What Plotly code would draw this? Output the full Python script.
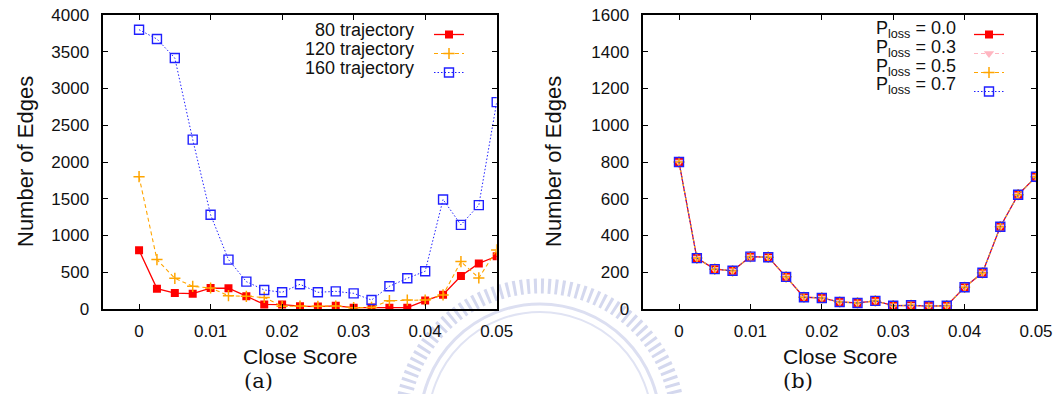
import plotly.graph_objects as go

# Close-score bins (shared by both panels)
close_score = [0.0, 0.0025, 0.005, 0.0075, 0.01, 0.0125, 0.015, 0.0175, 0.02, 0.0225,
               0.025, 0.0275, 0.03, 0.0325, 0.035, 0.0375, 0.04, 0.0425, 0.045, 0.0475, 0.05]

# Panel (a): number of edges per close score for each trajectory count
edges_80 = [800, 277, 217, 208, 285, 282, 175, 62, 60, 39, 33, 43, 18, 19, 16, 18, 115, 195, 448, 620, 718]
edges_120 = [1800, 672, 418, 308, 286, 181, 172, 158, 36, 40, 36, 40, 18, 22, 113, 122, 122, 191, 645, 423, 804]
edges_160 = [3800, 3673, 3414, 2305, 1282, 672, 372, 259, 227, 336, 227, 240, 213, 122, 309, 418, 513, 1490, 1145, 1413, 2814]
labels_a = ["80 trajectory", "120 trajectory", "160 trajectory"]

# Panel (b): number of edges under different packet-loss probabilities
edges_p00 = [800, 277, 217, 208, 285, 282, 175, 64, 60, 38, 33, 44, 18, 20, 16, 18, 118, 197, 448, 622, 720]
edges_p03 = [800, 277, 217, 208, 285, 282, 175, 64, 60, 38, 33, 44, 18, 20, 16, 18, 118, 197, 448, 622, 720]
edges_p05 = [800, 277, 217, 208, 285, 282, 175, 64, 60, 38, 33, 44, 18, 20, 16, 18, 118, 197, 448, 622, 720]
edges_p07 = [800, 277, 217, 208, 285, 282, 175, 64, 60, 38, 33, 44, 18, 20, 16, 18, 118, 197, 448, 622, 720]
labels_b = ["P<sub>loss</sub> = 0.0", "P<sub>loss</sub> = 0.3", "P<sub>loss</sub> = 0.5", "P<sub>loss</sub> = 0.7"]

W, H = 1062, 394
SANS = "Liberation Sans, Arial, sans-serif"
SERIF = "DejaVu Serif, Liberation Serif, serif"


def px_x(v):
    return v / W


def px_y(v):
    return 1 - v / H


RED = "#ff0000"
ORANGE = "#ffa500"
BLUE = "#2020ff"
PINK = "#ffb6c1"

style_red = dict(line=dict(color=RED, width=1.3, dash="solid"),
                 marker=dict(symbol="square", size=8, color=RED))
style_orange = dict(line=dict(color=ORANGE, width=1.1, dash="4px,3px"),
                    marker=dict(symbol="cross-thin", size=8, color=ORANGE,
                                line=dict(color=ORANGE, width=1.5)))
style_blue = dict(line=dict(color=BLUE, width=1.0, dash="1.5px,2px"),
                  marker=dict(symbol="square-open", size=9, color=BLUE,
                              line=dict(color=BLUE, width=1.4)))
style_pink = dict(line=dict(color=PINK, width=1.1, dash="4px,3px"),
                  marker=dict(symbol="triangle-down", size=9, color=PINK))

fig = go.Figure()

for ys, st in zip([edges_80, edges_120, edges_160], [style_red, style_orange, style_blue]):
    fig.add_trace(go.Scatter(x=close_score, y=ys, mode="lines+markers", name=" ",
                             xaxis="x", yaxis="y", legend="legend", **st))

for ys, st in zip([edges_p00, edges_p03, edges_p05, edges_p07],
                  [style_red, style_pink, style_orange, style_blue]):
    fig.add_trace(go.Scatter(x=close_score, y=ys, mode="lines+markers", name=" ",
                             xaxis="x2", yaxis="y2", legend="legend2", **st))

# plot frames in pixels
A_L, A_R = 103.3, 496.7
B_L, B_R = 643.3, 1036.0
TOP, BOT = 15.0, 309.0

axis_common = dict(showline=True, linecolor="black", linewidth=1.5, mirror="ticks",
                   ticks="inside", ticklen=5, tickwidth=1, tickcolor="black",
                   showgrid=False, zeroline=False, automargin=False,
                   tickfont=dict(family=SANS, size=17, color="#111"))

# faint circular seal behind both panels
cx_w, cy_w = 540, 424
seal = []
for r, w, dash, col in [(138, 15, "3px,4px", "#d4d8ee"), (120, 3, "solid", "#dcdff1"),
                        (112, 2, "solid", "#e0e3f3")]:
    seal.append(dict(type="circle", xref="paper", yref="paper", layer="below",
                     x0=px_x(cx_w - r), x1=px_x(cx_w + r),
                     y0=px_y(cy_w + r), y1=px_y(cy_w - r),
                     line=dict(color=col, width=w, dash=dash)))

fig.update_layout(
    width=W, height=H,
    margin=dict(l=0, r=0, t=0, b=0, autoexpand=False),
    paper_bgcolor="white", plot_bgcolor="rgba(0,0,0,0)",
    showlegend=True,
    shapes=seal,
    xaxis=dict(domain=[px_x(A_L), px_x(A_R)], range=[-0.005, 0.05], dtick=0.01, tick0=0,
               anchor="y", ticklabelstandoff=6, **axis_common),
    yaxis=dict(domain=[px_y(BOT), px_y(TOP)], range=[0, 4000], dtick=500,
               anchor="x", ticklabelstandoff=9, **axis_common),
    xaxis2=dict(domain=[px_x(B_L), px_x(B_R)], range=[-0.005, 0.05], dtick=0.01, tick0=0,
                anchor="y2", ticklabelstandoff=6, **axis_common),
    yaxis2=dict(domain=[px_y(BOT), px_y(TOP)], range=[0, 1600], dtick=200,
                anchor="x2", ticklabelstandoff=9, **axis_common),
    legend=dict(x=px_x(429), y=px_y(20), xanchor="left", yanchor="top",
                bgcolor="rgba(0,0,0,0)", borderwidth=0,
                font=dict(family=SANS, size=12), tracegroupgap=0),
    legend2=dict(x=px_x(969), y=px_y(20), xanchor="left", yanchor="top",
                 bgcolor="rgba(0,0,0,0)", borderwidth=0,
                 font=dict(family=SANS, size=12), tracegroupgap=0),
)

ann = []
# legend labels (right-aligned, to the left of the samples)
for i, t in enumerate(labels_a):
    ann.append(dict(x=px_x(416), y=px_y(30.3 + 19 * i), xref="paper", yref="paper",
                    text=t, showarrow=False, xanchor="right", yanchor="middle",
                    font=dict(family=SANS, size=18, color="#111")))
for i, t in enumerate(labels_b):
    ann.append(dict(x=px_x(958), y=px_y(29.8 + 18.7 * i), xref="paper", yref="paper",
                    text=t, showarrow=False, xanchor="right", yanchor="middle",
                    font=dict(family=SANS, size=18, color="#111")))

# axis titles and panel captions
for cx, cap, tx in [((A_L + A_R) / 2, "(a)", 25), ((B_L + B_R) / 2, "(b)", 553)]:
    ann.append(dict(x=px_x(cx), y=px_y(356), xref="paper", yref="paper",
                    text="Close Score", showarrow=False, xanchor="center", yanchor="middle",
                    font=dict(family=SANS, size=21, color="#111")))
    ann.append(dict(x=px_x(cx - 42), y=px_y(381), xref="paper", yref="paper",
                    text=cap, showarrow=False, xanchor="center", yanchor="middle",
                    font=dict(family=SERIF, size=21, color="#111")))
    ann.append(dict(x=px_x(tx), y=px_y((TOP + BOT) / 2), xref="paper", yref="paper",
                    text="Number of Edges", textangle=-90, showarrow=False,
                    xanchor="center", yanchor="middle",
                    font=dict(family=SANS, size=22, color="#111")))

fig.update_layout(annotations=ann)

fig.write_html("out.html", post_script="document.body.style.margin = '0';")
